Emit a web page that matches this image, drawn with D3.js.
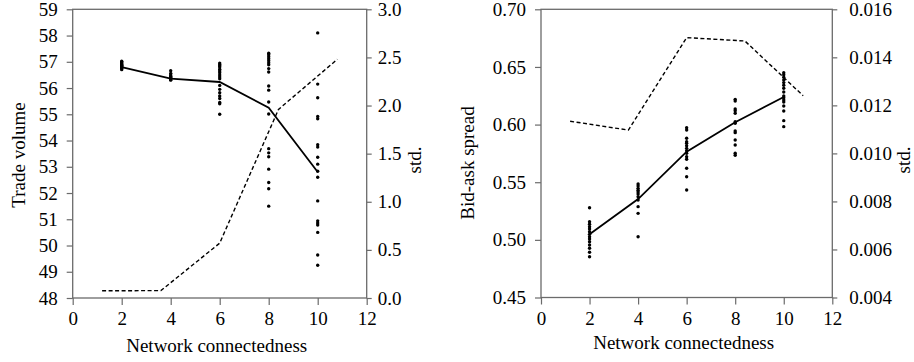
<!DOCTYPE html>
<html>
<head>
<meta charset="utf-8">
<script src="https://cdn.jsdelivr.net/npm/d3@7"></script>
<style>
  body { margin: 0; background: #fff; }
  svg { display: block; }
  text { font-family: "Liberation Serif", "Times New Roman", serif; fill: #000; }
</style>
</head>
<body>
<svg id="chart" width="914" height="362"></svg>
<script>
// ---------- DATA ----------
const categories = [2, 4, 6, 8, 10];
const xTicks = [0, 2, 4, 6, 8, 10, 12];

// Left panel: Trade volume
const tradeVolumeMean = [56.8, 56.36, 56.23, 55.25, 52.8];
const tradeVolumeStd = [0.075, 0.077, 0.57, 1.96, 2.48];
const tradeVolumePoints = [
  [57.02, 56.99, 56.96, 56.93, 56.9, 56.87, 56.85, 56.82, 56.8, 56.77, 56.74, 56.7],
  [56.66, 56.56, 56.5, 56.45, 56.41, 56.38, 56.35, 56.32, 56.3],
  [56.95, 56.9, 56.85, 56.8, 56.72, 56.65, 56.58, 56.5, 56.42, 56.35, 56.1, 55.95, 55.82, 55.7, 55.6, 55.45, 55.4, 55.0],
  [57.33, 57.27, 57.19, 57.12, 57.04, 56.96, 56.89, 56.74, 56.61, 56.08, 55.92, 55.47, 55.01, 53.69, 53.53, 53.38, 52.91, 52.4, 52.16, 51.5],
  [58.1, 56.15, 55.63, 54.92, 54.83, 53.84, 53.75, 53.36, 53.1, 52.83, 52.6, 51.7, 50.94, 50.86, 50.78, 50.5, 49.64, 49.25]
];
const tradeVolumeTicks = [48, 49, 50, 51, 52, 53, 54, 55, 56, 57, 58, 59];
const tradeStdTicks = [0, 0.5, 1.0, 1.5, 2.0, 2.5, 3.0];

// Right panel: Bid-ask spread
const spreadMean = [0.5048, 0.5354, 0.5765, 0.602, 0.6239];
const spreadStd = [0.01134, 0.01097, 0.01482, 0.01468, 0.0124];
const spreadPoints = [
  [0.5279, 0.5158, 0.5135, 0.5114, 0.5094, 0.5071, 0.5048, 0.5027, 0.5007, 0.4984, 0.4955, 0.4927, 0.4892, 0.4854],
  [0.5485, 0.5467, 0.5447, 0.543, 0.5415, 0.5398, 0.5374, 0.5346, 0.5288, 0.523, 0.5027],
  [0.5973, 0.5953, 0.5881, 0.5851, 0.5838, 0.5817, 0.5794, 0.5773, 0.5751, 0.5721, 0.5699, 0.5621, 0.5548, 0.5433],
  [0.6219, 0.6205, 0.6135, 0.612, 0.6098, 0.6025, 0.6011, 0.5944, 0.593, 0.5866, 0.5823, 0.5751, 0.5734],
  [0.645, 0.6433, 0.641, 0.6387, 0.6364, 0.6341, 0.6315, 0.6283, 0.6248, 0.6233, 0.6213, 0.6196, 0.6161, 0.6118, 0.6034, 0.5982]
];
const spreadTicks = [0.45, 0.50, 0.55, 0.60, 0.65, 0.70];
const spreadStdTicks = [0.004, 0.006, 0.008, 0.010, 0.012, 0.014, 0.016];

const xTitle = "Network connectedness";

// ---------- DRAW ----------
const svg = d3.select("#chart");
const FS = 19;
const axisColor = "#6b6b6b";

function panel(cfg) {
  const g = svg.append("g");
  const x = d3.scaleLinear().domain([0, 12]).range([cfg.x0, cfg.x1]);
  const xb = d3.scaleBand().domain(categories).range([cfg.x0, cfg.x1]);
  const yL = d3.scaleLinear().domain(cfg.yDomain).range([cfg.y1, cfg.y0]);
  const yR = d3.scaleLinear().domain(cfg.y2Domain).range([cfg.y1, cfg.y0]);

  // frame
  g.append("rect").attr("x", cfg.x0).attr("y", cfg.y0)
    .attr("width", cfg.x1 - cfg.x0).attr("height", cfg.y1 - cfg.y0)
    .attr("fill", "none").attr("stroke", axisColor).attr("stroke-width", 1.3);

  function style(sel) {
    sel.select(".domain").remove();
    sel.selectAll(".tick line").attr("stroke", axisColor).attr("stroke-width", 1.2);
    sel.selectAll(".tick text").style("font-size", FS + "px").style("font-family", '"Liberation Serif", serif').attr("fill", "#000");
  }

  g.append("g").attr("transform", `translate(0,${cfg.y1})`)
    .call(d3.axisBottom(x).tickValues(xTicks).tickFormat(d3.format("d")).tickSize(7).tickPadding(7))
    .call(style);
  g.append("g").attr("transform", `translate(${cfg.x0},0)`)
    .call(d3.axisLeft(yL).tickValues(cfg.yTicks).tickFormat(cfg.yFmt).tickSize(6).tickPadding(cfg.padL))
    .call(style);
  g.append("g").attr("transform", `translate(${cfg.x1},0)`)
    .call(d3.axisRight(yR).tickValues(cfg.y2Ticks).tickFormat(cfg.y2Fmt).tickSize(5).tickPadding(cfg.padR))
    .call(style);

  // std dashed line (category axis)
  const stdLine = d3.line().x((d, i) => xb(categories[i]) + xb.bandwidth() / 2).y(d => yR(d));
  g.append("path").datum(cfg.std).attr("d", stdLine)
    .attr("fill", "none").attr("stroke", "#000").attr("stroke-width", 1.4)
    .attr("stroke-dasharray", "4,2.5");

  // points
  cfg.points.forEach((arr, i) => {
    g.selectAll(null).data(arr).enter().append("circle")
      .attr("cx", x(categories[i])).attr("cy", d => yL(d)).attr("r", 1.7).attr("fill", "#000");
  });

  // mean line
  const meanLine = d3.line().x((d, i) => x(categories[i])).y(d => yL(d));
  g.append("path").datum(cfg.mean).attr("d", meanLine)
    .attr("fill", "none").attr("stroke", "#000").attr("stroke-width", 1.8);

  // titles
  g.append("text").attr("x", (cfg.x0 + cfg.x1) / 2 - 3).attr("y", cfg.xTitleY)
    .attr("text-anchor", "middle").style("font-size", FS + "px").text(xTitle);
  g.append("text").attr("transform", `translate(${cfg.yTitleX},${cfg.yTitleY}) rotate(-90)`)
    .attr("text-anchor", "middle").style("font-size", FS + "px").text(cfg.yTitle);
  g.append("text").attr("transform", `translate(${cfg.y2TitleX},${cfg.y2TitleY}) rotate(-90)`)
    .attr("text-anchor", "middle").style("font-size", FS + "px").text("std.");
}

panel({
  x0: 72.7, x1: 366.7, y0: 9.3, y1: 298,
  yDomain: [48, 59], y2Domain: [0, 3],
  yTicks: tradeVolumeTicks, y2Ticks: tradeStdTicks,
  yFmt: d3.format("d"), y2Fmt: d3.format(".1f"),
  padL: 9, padR: 6,
  mean: tradeVolumeMean, std: tradeVolumeStd, points: tradeVolumePoints,
  xTitleY: 352, yTitle: "Trade volume", yTitleX: 25, yTitleY: 155,
  y2TitleX: 421, y2TitleY: 160
});

panel({
  x0: 541, x1: 832.3, y0: 9.3, y1: 297.5,
  yDomain: [0.45, 0.70], y2Domain: [0.004, 0.016],
  yTicks: spreadTicks, y2Ticks: spreadStdTicks,
  yFmt: d3.format(".2f"), y2Fmt: d3.format(".3f"),
  padL: 9, padR: 12,
  mean: spreadMean, std: spreadStd, points: spreadPoints,
  xTitleY: 349, yTitle: "Bid-ask spread", yTitleX: 474, yTitleY: 163,
  y2TitleX: 910, y2TitleY: 160
});
</script>
</body>
</html>
